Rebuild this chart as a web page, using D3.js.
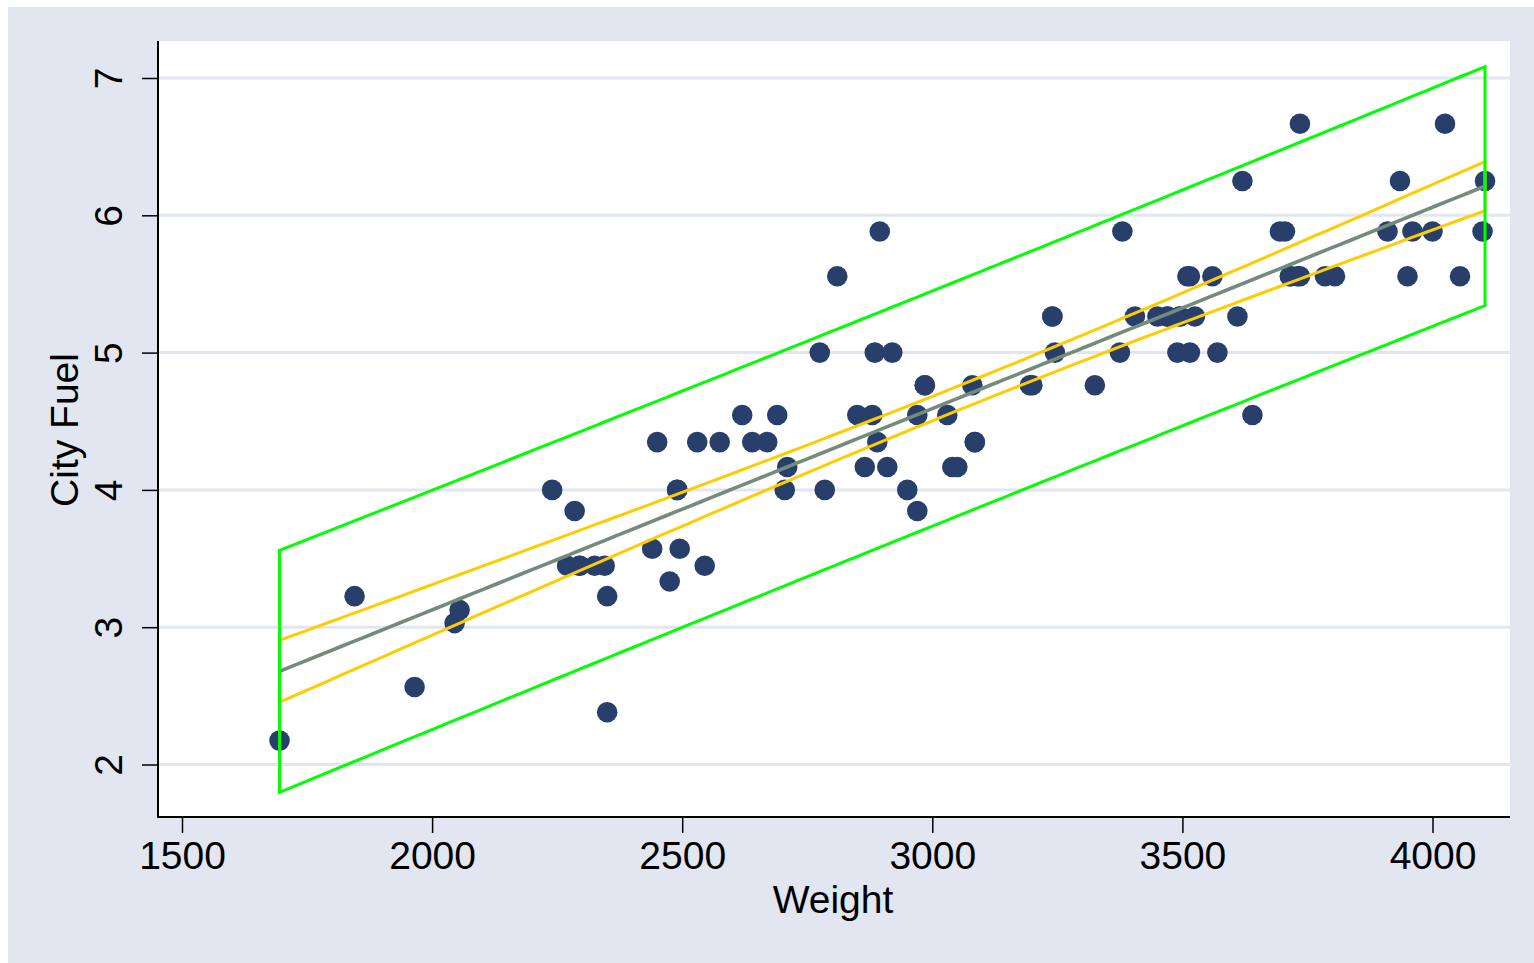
<!DOCTYPE html>
<html>
<head>
<meta charset="utf-8">
<script src="https://cdn.jsdelivr.net/npm/d3@7"></script>
<style>
  body { margin: 0; background: #ffffff; }
  svg text { font-family: "Liberation Sans", Arial, sans-serif; fill: #000; }
</style>
</head>
<body>
<svg id="chart" width="1534" height="963"></svg>
<script>
// car weight (lbs) and city fuel use (gallons per 100 miles)
var weight = [2705,3560,3375,3405,3640,2880,3470,4105,3495,3620,
    3935,2490,2785,3240,3195,3715,4025,3910,3380,3515,
    3085,3570,2270,2670,2970,3705,3080,3805,2295,3490,
    1845,2530,2690,2850,2710,3735,3325,3950,1695,2475,
    2865,2350,3040,2345,2620,2285,2885,4000,3510,3515,
    3695,4055,2325,2440,2970,3735,2895,2920,3525,2450,
    3610,2295,3730,2545,3050,4100,3200,2910,2890,3715,
    3470,2640,2350,2575,3240,3450,3495,2775,2495,2045,
    2490,3085,1965,2055,2950,3030,3785,2240,3960,2985,
    2810,2985,3245];
var cityFuel = [4.000,5.556,5.000,5.263,4.545,4.545,5.263,6.250,5.263,6.250,
    6.250,4.000,4.000,5.263,4.762,5.556,6.667,5.882,5.882,5.000,
    4.348,5.000,3.448,4.348,4.545,5.882,4.762,5.556,3.448,5.000,
    3.226,4.348,4.545,4.545,4.167,6.667,4.762,5.556,2.174,3.333,
    4.167,2.381,4.167,3.448,4.545,3.846,5.000,5.882,5.556,5.556,
    5.882,5.556,3.448,3.571,3.846,5.556,5.882,5.000,5.263,4.348,
    5.263,3.448,5.556,3.448,4.167,5.882,4.762,4.167,4.348,5.556,
    5.263,4.348,3.226,4.348,5.263,5.263,5.263,5.000,3.571,3.030,
    4.000,4.348,2.564,3.125,4.000,4.545,5.556,4.000,5.882,4.762,
    5.556,4.762,5.000];
var xTicks = [1500,2000,2500,3000,3500,4000];
var yTicks = [2,3,4,5,6,7];

var svg = d3.select("#chart");

// outer background
svg.append("rect").attr("x", 8).attr("y", 7).attr("width", 1526).attr("height", 956)
    .attr("fill", "#e1e6f0");
// plot region
var plotL = 158, plotR = 1510, plotT = 41, plotB = 817;
svg.append("rect").attr("x", plotL).attr("y", plotT).attr("width", plotR - plotL).attr("height", plotB - plotT)
    .attr("fill", "#ffffff");

var x = d3.scaleLinear().domain([1500, 4000]).range([182, 1432.5]);
var y = d3.scaleLinear().domain([2, 7]).range([764.5, 78]);

// gridlines
svg.append("g").selectAll("line").data(yTicks).enter().append("line")
    .attr("x1", plotL).attr("x2", plotR)
    .attr("y1", function (d) { return y(d); }).attr("y2", function (d) { return y(d); })
    .attr("stroke", "#e1e6f0").attr("stroke-width", 3);

// scatter
svg.append("g").selectAll("circle").data(weight).enter().append("circle")
    .attr("cx", function (d) { return x(d); })
    .attr("cy", function (d, i) { return y(cityFuel[i]); })
    .attr("r", 10.3)
    .attr("fill", "#283f6c");

// linear fit with confidence and prediction bands (like Stata lfitci)
var n = weight.length;
var mx = d3.mean(weight), my = d3.mean(cityFuel);
var sxx = 0, sxy = 0;
for (var i = 0; i < n; i++) {
    sxx += (weight[i] - mx) * (weight[i] - mx);
    sxy += (weight[i] - mx) * (cityFuel[i] - my);
}
var b = sxy / sxx, a = my - b * mx;
var sse = 0;
for (var i = 0; i < n; i++) {
    var r = cityFuel[i] - (a + b * weight[i]);
    sse += r * r;
}
var s = Math.sqrt(sse / (n - 2));
var tq = 1.9864; // t(0.975, 91)
var xmin = d3.min(weight), xmax = d3.max(weight);
var grid = d3.range(0, 101).map(function (k) { return xmin + (xmax - xmin) * k / 100; });
var fit = grid.map(function (g) {
    var yh = a + b * g;
    var h = 1 / n + (g - mx) * (g - mx) / sxx;
    return {x: g, y: yh, ciLo: yh - tq * s * Math.sqrt(h), ciHi: yh + tq * s * Math.sqrt(h),
        piLo: yh - tq * s * Math.sqrt(1 + h), piHi: yh + tq * s * Math.sqrt(1 + h)};
});

function band(lo, hi) {
    var pts = fit.map(function (d) { return [x(d.x), y(d[hi])]; });
    var back = fit.slice().reverse().map(function (d) { return [x(d.x), y(d[lo])]; });
    return d3.line()(pts.concat(back)) + "Z";
}

svg.append("path").attr("d", band("ciLo", "ciHi"))
    .attr("fill", "none").attr("stroke", "#ffcc00").attr("stroke-width", 3);
svg.append("path")
    .attr("d", d3.line().x(function (d) { return x(d.x); }).y(function (d) { return y(d.y); })(fit))
    .attr("fill", "none").attr("stroke", "#738b7b").attr("stroke-width", 3.6);
svg.append("path").attr("d", band("piLo", "piHi"))
    .attr("fill", "none").attr("stroke", "#00ff00").attr("stroke-width", 3);

// axes
var xAxis = svg.append("g").attr("transform", "translate(0," + plotB + ")")
    .call(d3.axisBottom(x).tickValues(xTicks).tickFormat(d3.format("d"))
        .tickSize(16).tickPadding(8).tickSizeOuter(0));
xAxis.select(".domain").remove();
xAxis.selectAll(".tick line").attr("stroke", "#000").attr("stroke-width", 1.5);
xAxis.selectAll(".tick text").attr("font-size", 39).attr("dy", "0.71em");

var yAxis = svg.append("g").attr("transform", "translate(" + plotL + ",0)")
    .call(d3.axisLeft(y).tickValues(yTicks).tickFormat(d3.format("d"))
        .tickSize(16).tickSizeOuter(0));
yAxis.select(".domain").remove();
yAxis.selectAll(".tick line").attr("stroke", "#000").attr("stroke-width", 1.5);
yAxis.selectAll(".tick text")
    .attr("font-size", 39)
    .attr("text-anchor", "middle")
    .attr("x", 0).attr("y", -36).attr("dy", 0)
    .attr("transform", "rotate(-90)");

svg.append("line").attr("x1", plotL).attr("x2", plotL).attr("y1", plotT).attr("y2", plotB + 1)
    .attr("stroke", "#000").attr("stroke-width", 2);
svg.append("line").attr("x1", plotL - 1).attr("x2", plotR).attr("y1", plotB).attr("y2", plotB)
    .attr("stroke", "#000").attr("stroke-width", 2);

// titles
svg.append("text").attr("x", 833).attr("y", 913).attr("text-anchor", "middle")
    .attr("font-size", 39).text("Weight");
svg.append("text").attr("transform", "translate(78,430) rotate(-90)").attr("text-anchor", "middle")
    .attr("font-size", 39).text("City Fuel");
</script>
</body>
</html>
